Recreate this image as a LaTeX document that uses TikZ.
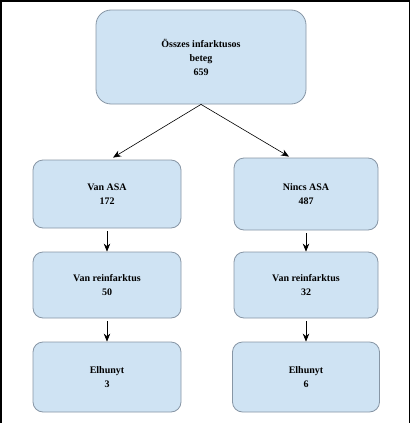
\documentclass[tikz,border=0pt]{standalone}
\usepackage{fontspec}
\setmainfont{Liberation Serif}
\usepackage{xcolor}
\usetikzlibrary{arrows.meta,positioning}

\definecolor{boxfill}{RGB}{207,227,243}
\definecolor{boxline}{RGB}{135,150,165}

\begin{document}
\begin{tikzpicture}[
    node distance=92pt,
    box/.style={rectangle, rounded corners=10pt, draw=boxline, fill=boxfill, thick,
        minimum width=148pt, minimum height=68pt, align=center,
        font=\bfseries\fontsize{10}{14}\selectfont},
    arrow/.style={-{Stealth[length=8pt, width=6.5pt]}, semithick}
]
    % frame
    \useasboundingbox (0,0) rectangle (410pt,-423pt);
    \draw[line width=1.5pt] (0.75pt,-423pt) -- (0.75pt,-0.75pt) -- (409.25pt,-0.75pt) -- (409.25pt,-423pt);

    \node[box, minimum width=210pt, minimum height=94pt, rounded corners=15pt] (all) at (201pt,-57pt) {Összes infarktusos\\beteg\\659};
    \node[box, below of=all, xshift=-94pt, yshift=-45pt] (asa) {Van ASA\\172};
    \node[box, below of=all, xshift=105pt, yshift=-45pt, minimum width=144pt, minimum height=72pt] (noasa) {Nincs ASA\\487};
    \node[box, below of=asa, yshift=1pt, minimum height=66pt] (reinf) {Van reinfarktus\\50};
    \node[box, below of=noasa, yshift=1pt, minimum width=144pt, minimum height=66pt] (noreinf) {Van reinfarktus\\32};
    \node[box, below of=reinf, minimum height=70pt] (dead) {Elhunyt\\3};
    \node[box, below of=noreinf, minimum width=147pt, minimum height=70pt] (nodead) {Elhunyt\\6};

    \draw[arrow] (all.south) -- ([xshift=6pt,yshift=2pt]asa.north);
    \draw[arrow] (all.south) -- ([xshift=-17pt,yshift=1pt]noasa.north);
    \draw[arrow, shorten <=3pt] (asa) -- (reinf);
    \draw[arrow, shorten <=3pt] (noasa) -- (noreinf);
    \draw[arrow, shorten <=3pt] (reinf) -- (dead);
    \draw[arrow, shorten <=3pt] (noreinf) -- (nodead);
\end{tikzpicture}
\end{document}
